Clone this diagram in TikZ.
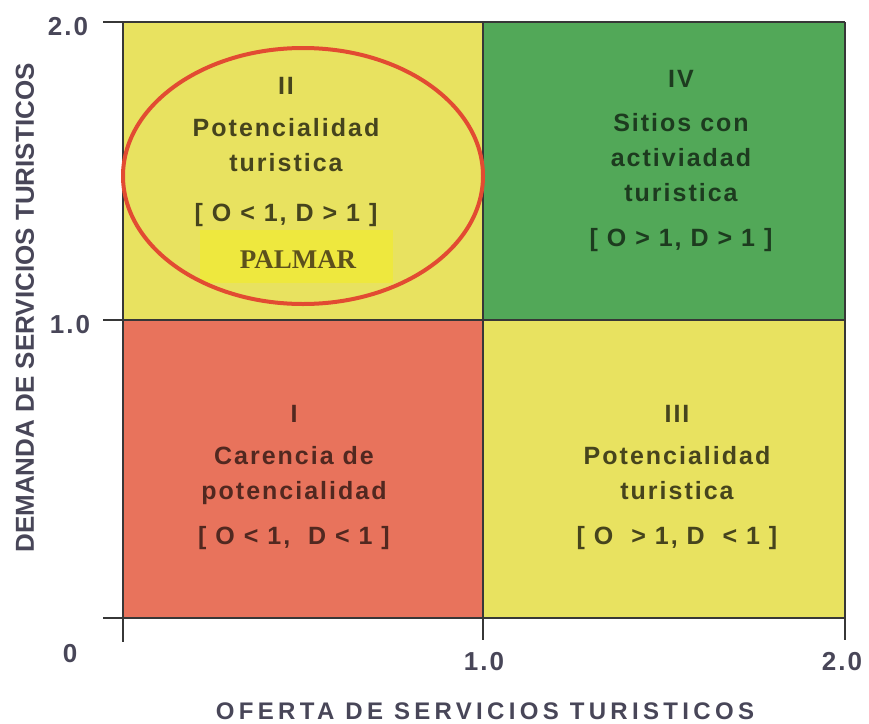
\documentclass[tikz,border=0pt]{standalone}
\usepackage{fontspec}
\setmainfont{Liberation Sans}
\newfontfamily\quadfont[LetterSpace=8]{Liberation Sans}
\newfontfamily\widefont[LetterSpace=18]{Liberation Sans}
\newfontfamily\namefont{Liberation Serif}
\usetikzlibrary{positioning}

\definecolor{quadyellow}{RGB}{232,226,96}
\definecolor{quadgreen}{RGB}{82,168,88}
\definecolor{quadred}{RGB}{232,115,92}
\definecolor{palmaryellow}{RGB}{238,232,62}
\definecolor{palmarred}{RGB}{226,75,50}
\definecolor{palmartext}{RGB}{92,80,28}
\definecolor{gridgray}{RGB}{55,55,55}
\definecolor{tickgray}{RGB}{72,70,88}

\begin{document}
\begin{tikzpicture}
    [x=1pt, y=-1pt,
    quadtext/.style={font=\quadfont\bfseries\fontsize{25}{35}\selectfont, align=center, inner sep=0pt, anchor=north},
    ticklabel/.style={font=\quadfont\bfseries\fontsize{26}{26}\selectfont, text=tickgray},
    axislabel/.style={font=\bfseries\fontsize{26}{26}\selectfont, text=tickgray},
    gridline/.style={draw=gridgray, line width=2pt}]
  \useasboundingbox (0,0) rectangle (869,723);
  % quadrants
  \fill[quadyellow] (123,22) rectangle (483,320);
  \fill[quadgreen] (483,22) rectangle (845,320);
  \fill[quadred] (123,320) rectangle (483,618);
  \fill[quadyellow] (483,320) rectangle (845,618);
  % grid and axes
  \draw[gridline] (103,22) -- (845,22);
  \draw[gridline] (103,320) -- (845,320);
  \draw[gridline] (103,618) -- (845,618);
  \draw[gridline] (123,22) -- (123,642);
  \draw[gridline] (483,22) -- (483,640);
  \draw[gridline] (845,22) -- (845,640);
  % palmar
  \fill[palmaryellow] (200,230) rectangle (393,283);
  \draw[palmarred, line width=4pt] (303,176) ellipse [x radius=180pt, y radius=128pt];
  \node[font=\namefont\bfseries\fontsize{27}{27}\selectfont, text=palmartext] (palmar) at (298,260) {PALMAR};
  % quadrant texts
  \node[quadtext, text=quadyellow!30!black] (q2) at (286,77)
    {II\\[7pt]Potencialidad\\turistica\\[15pt]{[ O < 1, D > 1 ]}};
  \node[quadtext, text=quadgreen!35!black] (q4) at (681,70)
    {IV\\[9pt]Sitios con\\activiadad\\turistica\\[10pt]{[ O > 1, D > 1 ]}};
  \node[quadtext, text=quadred!35!black] (q1) at (294,405)
    {I\\[7pt]Carencia de\\potencialidad\\[10pt]{[ O < 1,\ \ D < 1 ]}};
  \node[quadtext, text=quadyellow!30!black] (q3) at (677,405)
    {III\\[7pt]Potencialidad\\turistica\\[10pt]{[ O \ > 1, D \ < 1 ]}};
  % tick labels
  \node[ticklabel] (y2) at (68,27) {2.0};
  \node[ticklabel] (y1) at (70,325) {1.0};
  \node[ticklabel] (y0) at (70,654) {0};
  \node[ticklabel] (x1) at (484,662) {1.0};
  \node[ticklabel] (x2) at (842,662) {2.0};
  % axis labels
  \node[axislabel, font=\widefont\bfseries\fontsize{24}{24}\selectfont] (xlabel) at (485,711) {OFERTA DE SERVICIOS TURISTICOS};
  \node[axislabel, rotate=90] (ylabel) at (25,308) {DEMANDA DE SERVICIOS TURISTICOS};
\end{tikzpicture}
\end{document}
